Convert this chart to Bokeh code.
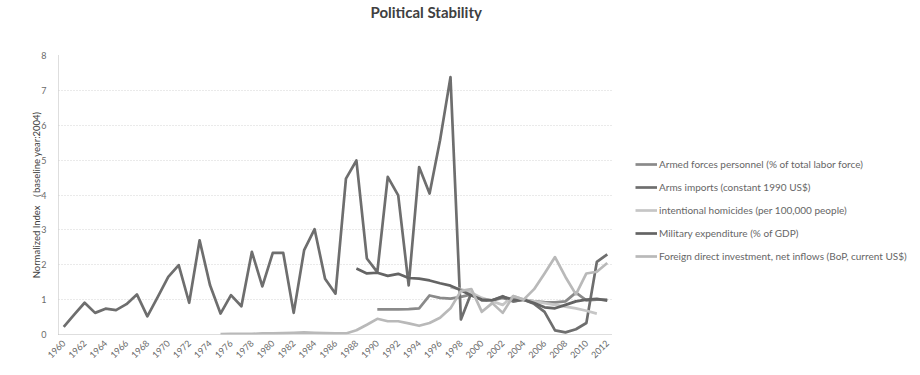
import math
from bokeh.plotting import figure
from bokeh.layouts import row
from bokeh.models import (ColumnDataSource, Legend, LegendItem,
                          FixedTicker, Range1d, Title)
from bokeh.embed import file_html
from bokeh.resources import INLINE

# ---- data (index, baseline year 2004 = 1) ----
years = list(range(1960, 2013))
nan = float("nan")

armed_forces = [nan] * 30 + [
    0.72, 0.72, 0.72, 0.73, 0.75, 1.12, 1.05, 1.03, 1.08, 1.15,   # 1990-1999
    1.00, 0.98, 1.05, 0.95, 1.00, 0.95, 0.93, 0.92, 0.95, 1.20,   # 2000-2009
    0.98, 1.00, 1.00]                                             # 2010-2012

arms_imports = [
    0.22, 0.57, 0.91, 0.62, 0.74, 0.70, 0.87, 1.15, 0.52, 1.08,   # 1960-1969
    1.65, 1.99, 0.91, 2.70, 1.41, 0.60, 1.13, 0.81, 2.37, 1.38,   # 1970-1979
    2.34, 2.34, 0.62, 2.42, 3.02, 1.60, 1.17, 4.47, 4.99, 2.18,   # 1980-1989
    1.79, 4.52, 3.99, 1.41, 4.80, 4.04, 5.57, 7.38, 0.43, 1.20,   # 1990-1999
    0.98, 0.98, 1.10, 0.95, 1.00, 0.88, 0.65, 0.12, 0.06, 0.15,   # 2000-2009
    0.33, 2.08, 2.30]                                             # 2010-2012

homicides = [nan] * 37 + [
    1.35, 1.30, 1.20,                                             # 1997-1999
    1.05, 0.95, 0.85, 1.10, 1.00, 0.95, 0.90, 0.85, 0.80, 0.75,   # 2000-2009
    0.68, 0.60, nan]                                              # 2010-2012

military_exp = [nan] * 28 + [
    1.89, 1.75,                                                   # 1988-1989
    1.77, 1.68, 1.74, 1.62, 1.60, 1.55, 1.47, 1.40, 1.27, 1.12,   # 1990-1999
    1.00, 0.98, 1.08, 1.00, 1.00, 0.90, 0.78, 0.75, 0.85, 0.95,   # 2000-2009
    1.00, 1.02, 0.97]                                             # 2010-2012

fdi = [nan] * 15 + [
    0.01, 0.02, 0.02, 0.02, 0.03,                                 # 1975-1979
    0.03, 0.04, 0.05, 0.06, 0.05, 0.04, 0.03, 0.03, 0.12, 0.28,   # 1980-1989
    0.45, 0.38, 0.38, 0.32, 0.25, 0.33, 0.48, 0.75, 1.25, 1.30,   # 1990-1999
    0.65, 0.90, 0.62, 1.10, 1.00, 1.30, 1.75, 2.22, 1.65, 1.15,   # 2000-2009
    1.75, 1.80, 2.05]                                             # 2010-2012

series_names = [
    "Armed forces personnel (% of total labor force)",
    "Arms imports (constant 1990 US$)",
    "intentional homicides (per 100,000 people)",
    "Military expenditure (% of GDP)",
    "Foreign direct investment, net inflows (BoP, current US$)",
]
series_values = [armed_forces, arms_imports, homicides, military_exp, fdi]
series_colors = ["#8a8a8a", "#6e6e6e", "#c6c6c6", "#646464", "#b9b9b9"]

tick_years = list(range(1960, 2013, 2))
y_ticks = list(range(0, 9))

FONT = "Lato"
LINE_W = 2.7

# ---- main chart ----
p = figure(width=612, height=375, output_backend="svg", toolbar_location=None,
           x_range=Range1d(1959.5, 2012.5), y_range=Range1d(0, 8),
           min_border_left=58, min_border_right=0,
           min_border_top=55, min_border_bottom=41,
           background_fill_color="white", border_fill_color="white")
p.outline_line_color = None

# blank strip between the plot area and the heading
p.add_layout(Title(text=" ", text_font_size="30px", standoff=0), "above")

p.title.text = "Political Stability"
p.title.align = "left"
p.title.offset = 312
p.title.standoff = 0
p.title.text_font = FONT
p.title.text_font_style = "bold"
p.title.text_font_size = "15px"
p.title.text_color = "#404040"

p.xaxis.ticker = FixedTicker(ticks=tick_years)
p.yaxis.ticker = FixedTicker(ticks=y_ticks)
p.xaxis.major_label_orientation = math.pi / 4
for ax in (p.xaxis[0], p.yaxis[0]):
    ax.major_tick_line_color = None
    ax.minor_tick_line_color = None
    ax.axis_line_color = "#bdbdbd"
    ax.axis_line_dash = "1 1"
    ax.major_label_text_font = FONT
    ax.major_label_text_font_size = "9px"
    ax.major_label_text_color = "#6a6a6a"
p.xaxis.major_label_standoff = 1
p.yaxis.major_label_standoff = 6
p.yaxis.axis_label = "Normalized Index （baseline year:2004)"
p.yaxis.axis_label_text_font = FONT
p.yaxis.axis_label_text_font_style = "normal"
p.yaxis.axis_label_text_font_size = "9.5px"
p.yaxis.axis_label_text_color = "#404040"
p.yaxis.axis_label_standoff = -4

p.xgrid.grid_line_color = None
p.ygrid.grid_line_color = "#d4d4d4"
p.ygrid.grid_line_dash = "1 2"

for vals, col in zip(series_values, series_colors):
    src = ColumnDataSource(dict(x=years, y=vals))
    p.line("x", "y", source=src, line_color=col, line_width=LINE_W,
           line_join="round")

# ---- legend panel to the right of the chart ----
q = figure(width=308, height=375, output_backend="svg", toolbar_location=None,
           x_range=Range1d(0, 308), y_range=Range1d(0, 375),
           min_border=0, background_fill_color="white",
           border_fill_color="white")
q.outline_line_color = None
q.axis.visible = False
q.grid.visible = False

items = []
for name, col in zip(series_names, series_colors):
    r = q.line(x=[nan], y=[nan], line_color=col, line_width=LINE_W)
    items.append(LegendItem(label=name, renderers=[r]))

legend = Legend(items=items, location=(23, 70),
                label_text_font=FONT, label_text_font_size="10px",
                label_text_color="#666666", label_standoff=2,
                glyph_width=22, glyph_height=16, label_height=16,
                spacing=7, padding=0, margin=0,
                border_line_color=None, background_fill_alpha=0)
q.add_layout(legend)

layout = row(p, q, spacing=0)
open("out.html", "w").write(file_html(layout, INLINE))
